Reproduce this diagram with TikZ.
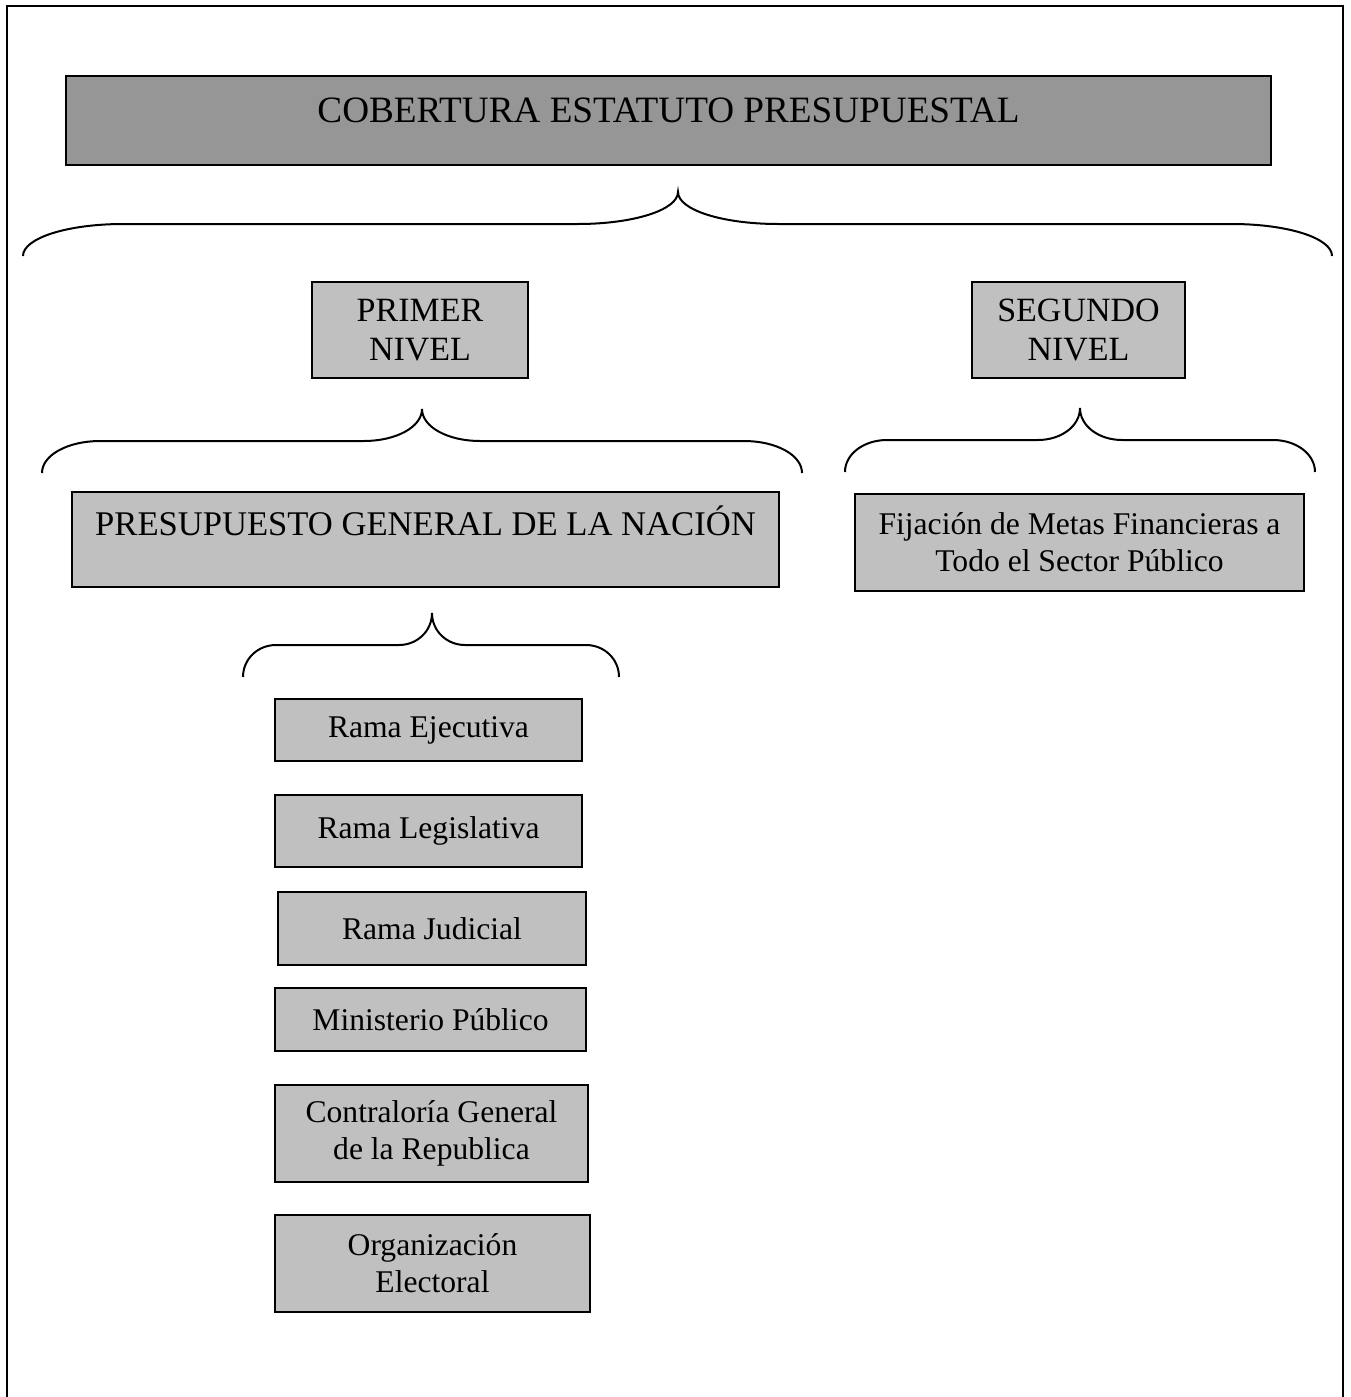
\documentclass[tikz,border=0pt]{standalone}
\usepackage{fontspec}
\setmainfont{Liberation Serif}
\usepackage{tikz}

\definecolor{darkbox}{RGB}{150,150,150}
\definecolor{lightbox}{RGB}{192,192,192}

% horizontal curly brace: left x, tip x, right x, y of the ends, curl length
\newcommand{\curlybrace}[5]{%
\draw [line width=1pt] (#1,#4) .. controls (#1,#4-18) and (#1+0.448*#5,#4-32) .. (#1+#5,#4-32)
  -- (#2-#5,#4-32) .. controls (#2-0.448*#5,#4-32) and (#2,#4-46) .. (#2,#4-64)
  .. controls (#2,#4-46) and (#2+0.448*#5,#4-32) .. (#2+#5,#4-32)
  -- (#3-#5,#4-32) .. controls (#3-0.448*#5,#4-32) and (#3,#4-18) .. (#3,#4);}

\tikzset{
  box/.style={draw,rectangle,line width=1.2pt,fill=lightbox,inner sep=0pt,align=center},
  small/.style={font=\fontsize{15.8}{18.5}\selectfont},
  level/.style={font=\fontsize{17}{19.5}\selectfont}
}

\begin{document}
\begin{tikzpicture}[x=0.5pt,y=-0.5pt]
\useasboundingbox (0,0) rectangle (1350,1397);
\draw [line width=1.4pt] (7,1397) -- (7,6) -- (1343,6) -- (1343,1397);

\node [box,fill=darkbox,anchor=north,minimum width=602.5pt,text height=23pt,text depth=21.5pt,
  font=\fontsize{18.6}{22}\selectfont] (cob) at(668.5,75){COBERTURA ESTATUTO PRESUPUESTAL};
\curlybrace{23}{678}{1332}{256}{100}

\node [box,level,minimum width=108pt,minimum height=48pt] (primer) at(420,330){PRIMER\\NIVEL};
\node [box,level,minimum width=106.5pt,minimum height=48pt] (segundo) at(1078.5,330){SEGUNDO\\NIVEL};
\curlybrace{42}{422}{802}{473}{58}
\curlybrace{845}{1080}{1315}{472}{42}

\node [box,anchor=north,minimum width=353.5pt,text height=21.5pt,text depth=26pt,
  font=\fontsize{17.3}{20}\selectfont] (pgn) at(425.5,491){PRESUPUESTO GENERAL DE LA NACIÓN};
\node [box,small,minimum width=224.5pt,minimum height=48.5pt] (metas) at(1079.5,542.5){Fijación de Metas Financieras a\\Todo el Sector Público};
\curlybrace{243}{432}{619}{677}{33}

% ramas y organos
\node [box,small,minimum width=153.5pt,minimum height=31pt] (ejec) at(428.5,730){Rama Ejecutiva};
\node [box,small,minimum width=153.5pt,minimum height=36pt] (legis) at(428.5,831){Rama Legislativa};
\node [box,small,minimum width=154pt,minimum height=36.5pt] (judic) at(432,928.5){Rama Judicial};
\node [box,small,minimum width=155.5pt,minimum height=31.5pt] (minpub) at(430.5,1019.5){Ministerio Público};
\node [box,small,minimum width=156.5pt,minimum height=48.5pt] (contra) at(431.5,1133.5){Contraloría General\\de la Republica};
\node [box,small,minimum width=157.5pt,minimum height=48.5pt] (elect) at(432.5,1263.5){Organización\\Electoral};
\end{tikzpicture}
\end{document}
